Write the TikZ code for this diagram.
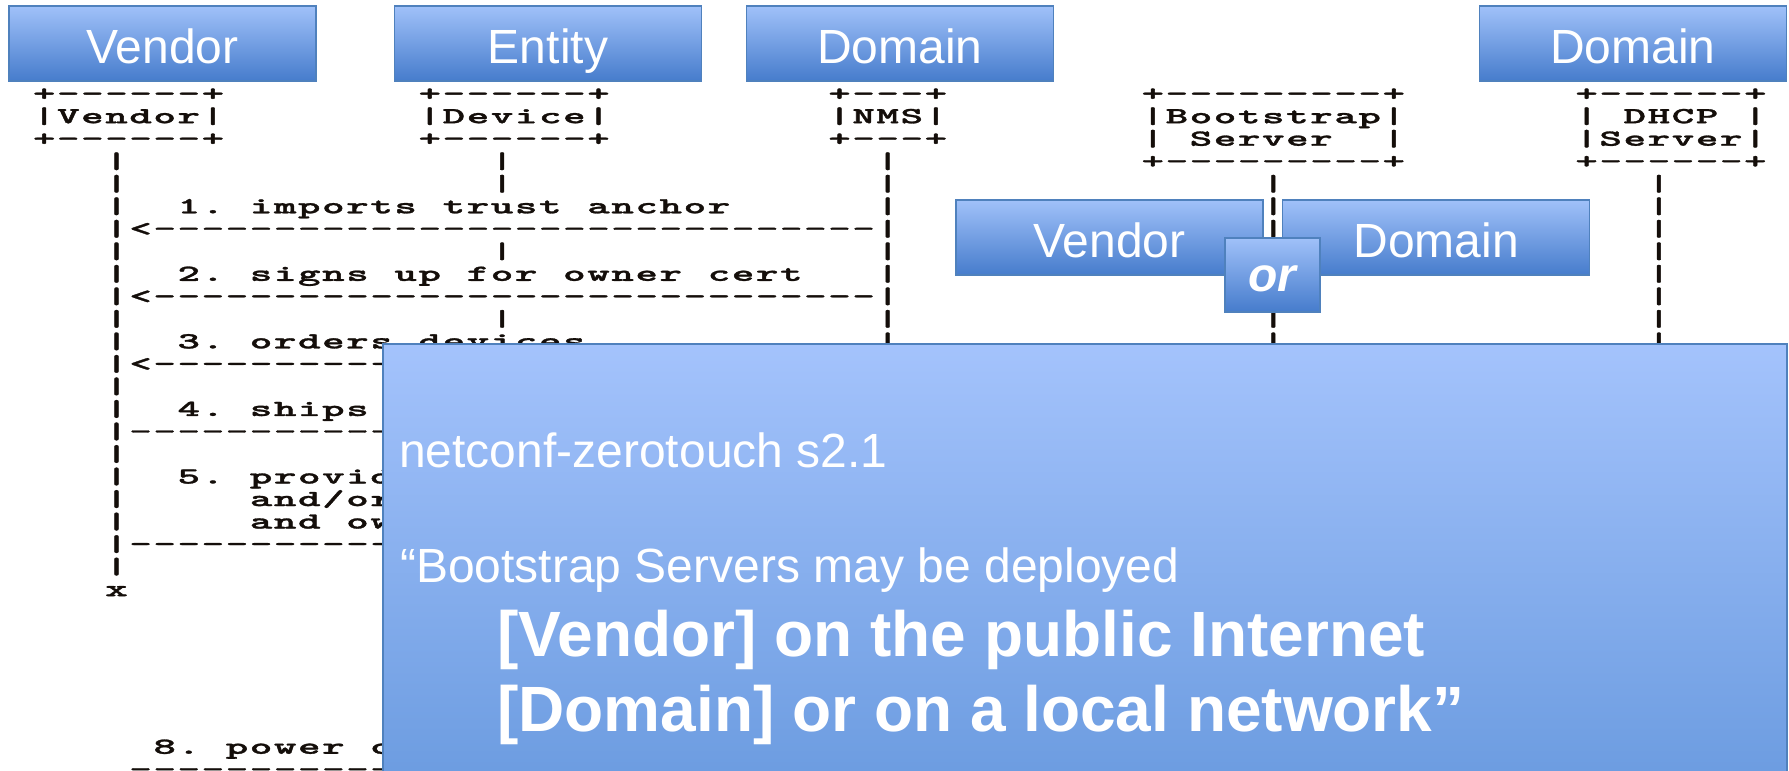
\documentclass[tikz,border=0pt]{standalone}
\usepackage{fontspec}
\setmainfont{Liberation Sans}
\newfontfamily\ascfam{lmmonolt10-bold.otf}[FakeBold=1.2]
\usepackage{graphicx}

\definecolor{hdtop}{RGB}{160,193,249}
\definecolor{hdbot}{RGB}{70,124,204}
\definecolor{hdedge}{RGB}{79,129,189}
\definecolor{ovtop}{RGB}{164,195,252}
\definecolor{ovbot}{RGB}{105,154,223}
\definecolor{ascii}{RGB}{20,14,10}

\newcommand\hfont{\fontsize{48}{56}\selectfont}
\newcommand\qfont{\fontsize{48}{56}\selectfont}
\newcommand\qbfont{\fontsize{64}{74}\selectfont\bfseries}
\newcommand\ascfont{\fontsize{23}{23}\selectfont\ascfam}

% character grid of the ASCII sequence chart
\newcommand\ascx[1]{44.2+24.1*(#1)}
\newcommand\ascy[1]{100.7+22.52*(#1)}
\makeatletter
% \aw{column}{row}{characters}: one grid cell per character
\newcommand\aw[3]{%
  \def\aw@c{#1}%
  \@tfor\aw@ch:=#3\do{%
    \node[ch] (t\aw@c-#2) at ({\ascx{\aw@c}},{\ascy{#2}}) {\scalebox{1.85}[1]{\aw@ch}};%
    \pgfmathtruncatemacro\aw@c{\aw@c+1}%
  }}
\makeatother
% \dashrow{first col}{last col}{row}
\newcommand\dashrow[3]{\foreach \ci in {#1,...,#2}{%
  \node[ch] (d\ci-#3) at ({\ascx{\ci}},{\ascy{#3}}) {\scalebox{1.85}[1]{-}};}}
% \lifeline{col}{first row}{last row}
\newcommand\lifeline[3]{\foreach \ri in {#2,...,#3}{%
  \node[ch] (l#1-\ri) at ({\ascx{#1}},{\ascy{\ri}}) {\scalebox{1.85}[1]{|}};}}

\begin{document}
\begin{tikzpicture}[x=1pt,y=-1pt,
  ch/.style={anchor=base, inner sep=0pt, font=\ascfont, text=ascii},
  hdr/.style={draw=hdedge, line width=1.4pt, top color=hdtop, bottom color=hdbot,
    text=white, font=\hfont, inner sep=0pt, minimum width=307pt, minimum height=75pt,
    text height=39pt, text depth=0pt},
  orbox/.style={hdr, minimum width=95pt, minimum height=74pt, text height=34pt,
    font=\hfont\bfseries\itshape},
  ovl/.style={draw=hdedge, line width=1.6pt, top color=ovtop, bottom color=ovbot,
    inner sep=0pt},
  qt/.style={text=white, font=\qfont, inner sep=0pt, anchor=base west},
  qb/.style={text=white, font=\qbfont, inner sep=0pt, anchor=base west}]
\useasboundingbox (0,0) rectangle (1789,771);

% ---- participant boxes
\aw{0}{0}{+------+}\aw{16}{0}{+------+}\aw{33}{0}{+---+}\aw{46}{0}{+---------+}\aw{64}{0}{+------+}
\aw{0}{1}{|Vendor|}\aw{16}{1}{|Device|}\aw{33}{1}{|NMS|}\aw{46}{1}{|Bootstrap|}
\aw{64}{1}{|}\aw{66}{1}{DHCP}\aw{71}{1}{|}
\aw{0}{2}{+------+}\aw{16}{2}{+------+}\aw{33}{2}{+---+}
\aw{46}{2}{|}\aw{48}{2}{Server}\aw{56}{2}{|}\aw{64}{2}{|Server|}
\aw{46}{3}{+---------+}\aw{64}{3}{+------+}

% ---- lifelines
\lifeline{3}{3}{21}
\aw{3}{22}{x}
\lifeline{19}{3}{4}\lifeline{19}{7}{7}\lifeline{19}{10}{10}
\lifeline{35}{3}{12}
\lifeline{51}{4}{12}
\lifeline{67}{4}{12}

% ---- messages
\aw{6}{5}{1.}\aw{9}{5}{imports}\aw{17}{5}{trust}\aw{23}{5}{anchor}
\aw{4}{6}{<}\dashrow{5}{34}{6}
\aw{6}{8}{2.}\aw{9}{8}{signs}\aw{15}{8}{up}\aw{18}{8}{for}\aw{22}{8}{owner}\aw{28}{8}{cert}
\aw{4}{9}{<}\dashrow{5}{34}{9}
\aw{6}{11}{3.}\aw{9}{11}{orders}\aw{16}{11}{devices}
\aw{4}{12}{<}\dashrow{5}{20}{12}
\aw{6}{14}{4.}\aw{9}{14}{ships}\aw{15}{14}{devices}
\dashrow{4}{17}{15}\aw{18}{15}{>}
\aw{6}{17}{5.}\aw{9}{17}{provides}
\aw{9}{18}{and/or}
\aw{9}{19}{and}\aw{13}{19}{owner}
\dashrow{4}{18}{20}
\aw{5}{29}{8.}\aw{8}{29}{power}\aw{14}{29}{on}
\dashrow{4}{18}{30}

% ---- role headers
\node[hdr] (hVendor) at (162.4,43.5) {Vendor};
\node[hdr] (hEntity) at (548,43.5) {Entity};
\node[hdr] (hDomain) at (899.8,43.5) {Domain};
\node[hdr] (hDhcp) at (1633,43.5) {Domain};

% ---- bootstrap server operator
\node[hdr] (mVendor) at (1109.4,237.6) {Vendor};
\node[hdr] (mDomain) at (1436.2,237.6) {Domain};
\node[orbox] (orsel) at (1272.6,274.8) {or};

% ---- quotation panel
\node[ovl, anchor=north west, minimum width=1404pt, minimum height=457pt] (panel) at (382,343) {};
\node[qt] (src) at (399,467.7) {netconf-zerotouch s2.1};
\node[qt] (q1) at (400,582.3) {“Bootstrap Servers may be deployed};
\node[qb] (q2) at (497,656.7) {[Vendor] on the public Internet};
\node[qb] (q3) at (497,731.7) {[Domain] or on a local network”};
\end{tikzpicture}
\end{document}
